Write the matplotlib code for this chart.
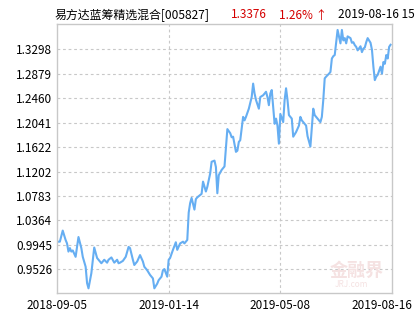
import matplotlib
matplotlib.use("Agg")
import matplotlib.pyplot as plt
import matplotlib.transforms as mtransforms

plt.rcParams['font.family'] = ['Noto Sans CJK SC', 'DejaVu Sans']

fund_name = "易方达蓝筹精选混合[005827]"
last_nav = "1.3376"
last_change = "1.26% ↑"
last_time = "2019-08-16 15"

x_labels = ["2018-09-05", "2019-01-14", "2019-05-08", "2019-08-16"]
x_label_pos = [0, 78, 156, 234]
y_ticks = [0.9526, 0.9945, 1.0364, 1.0783, 1.1202, 1.1622, 1.2041, 1.2460, 1.2879, 1.3298]

day_idx = [0, 2, 4, 6, 7, 8, 9, 10, 11, 13, 15, 17, 18, 20, 21, 22, 24, 26, 28, 29,
           31, 33, 35, 36, 38, 40, 42, 43, 44, 46, 48, 50, 51, 53, 54, 56, 58, 60, 61, 63,
           65, 67, 68, 70, 71, 73, 74, 75, 77, 78, 79, 81, 83, 84, 86, 88, 89, 91, 92, 93,
           94, 96, 97, 98, 100, 101, 102, 104, 105, 107, 108, 110, 111, 112, 113, 115, 116, 117, 119, 121,
           122, 123, 125, 126, 127, 128, 130, 131, 132, 134, 136, 137, 138, 139, 141, 142, 144, 146, 147, 148,
           149, 150, 152, 153, 154, 155, 156, 158, 159, 160, 161, 162, 164, 165, 167, 169, 170, 171, 173, 174,
           175, 177, 178, 179, 180, 182, 184, 185, 186, 187, 188, 190, 191, 192, 193, 194, 195, 196, 198, 199,
           200, 201, 202, 203, 205, 206, 207, 208, 209, 210, 212, 213, 214, 215, 216, 217, 219, 220, 221, 222,
           223, 224, 226, 227, 228, 229, 230, 231, 232, 233]
nav = [1.000, 1.000, 1.019, 1.003, 0.997, 0.983, 0.989, 0.983, 0.985, 0.974, 1.008, 0.989, 0.974, 0.957, 0.929, 0.920, 0.946, 0.990, 0.972, 0.969,
       0.963, 0.969, 0.964, 0.969, 0.973, 0.964, 0.969, 0.963, 0.964, 0.967, 0.974, 0.991, 0.989, 0.969, 0.960, 0.966, 0.977, 0.966, 0.957, 0.951,
       0.943, 0.937, 0.920, 0.928, 0.934, 0.940, 0.951, 0.953, 0.940, 0.969, 0.972, 0.986, 0.999, 0.986, 0.997, 1.000, 0.997, 1.003, 1.050, 1.066,
       1.075, 1.055, 1.073, 1.076, 1.080, 1.082, 1.103, 1.086, 1.094, 1.117, 1.137, 1.139, 1.128, 1.083, 1.114, 1.123, 1.126, 1.129, 1.193, 1.186,
       1.179, 1.180, 1.154, 1.156, 1.171, 1.174, 1.214, 1.208, 1.214, 1.228, 1.248, 1.271, 1.254, 1.243, 1.228, 1.248, 1.251, 1.257, 1.248, 1.234,
       1.254, 1.260, 1.202, 1.211, 1.199, 1.168, 1.219, 1.205, 1.243, 1.263, 1.243, 1.217, 1.211, 1.180, 1.188, 1.199, 1.214, 1.208, 1.202, 1.199,
       1.181, 1.163, 1.196, 1.228, 1.217, 1.211, 1.205, 1.214, 1.243, 1.280, 1.283, 1.288, 1.291, 1.314, 1.318, 1.320, 1.341, 1.363, 1.340, 1.363,
       1.345, 1.349, 1.340, 1.352, 1.349, 1.341, 1.342, 1.337, 1.334, 1.328, 1.335, 1.325, 1.331, 1.333, 1.342, 1.349, 1.341, 1.329, 1.300, 1.277,
       1.283, 1.286, 1.300, 1.288, 1.308, 1.305, 1.320, 1.314, 1.334, 1.3376]

W, H = 415, 330
fig = plt.figure(figsize=(W / 100, H / 100), dpi=100)
fig.patch.set_facecolor("white")
ax = fig.add_axes([57 / W, 1 - 293 / H, 335 / W, 269 / H])

ax.plot(day_idx, nav, color="#66aef2", linewidth=1.5, solid_joinstyle="round")
ax.set_xlim(0, 234)
ax.set_ylim(0.9120, 1.3732)

ax.set_yticks(y_ticks)
ax.set_yticklabels([f"{v:.4f}" for v in y_ticks])
ax.set_xticks(x_label_pos)
ax.set_xticklabels(x_labels)

grid_kw = dict(color="#c8c8c8", linewidth=0.8, linestyle=(0, (2.5, 2.5)))
for v in y_ticks:
    ax.axhline(v, **grid_kw, zorder=0)
for p in x_label_pos[1:-1]:
    ax.axvline(p, **grid_kw, zorder=0)

for s in ax.spines.values():
    s.set_color("#c8c8c8")
    s.set_linewidth(1.0)

ax.tick_params(axis="both", length=0, labelsize=8.5, colors="#000000")
ax.tick_params(axis="y", pad=3.5)
ax.tick_params(axis="x", pad=4)

labels = ax.get_xticklabels()
shift = mtransforms.ScaledTranslation(-10 / 100, 0, fig.dpi_scale_trans)
labels[-1].set_transform(labels[-1].get_transform() + shift)

# watermark
ax.text(0.975, 0.085, "金融界", transform=ax.transAxes, ha="right", va="center",
        fontsize=13, color="#f5e2e2", fontweight="bold", zorder=0)
ax.text(0.93, 0.03, "JRJ.com", transform=ax.transAxes, ha="right", va="center",
        fontsize=6, color="#f5e2e2", fontstyle="italic", zorder=0)

ty = 1 - 15 / H
fig.text(55 / W, ty, fund_name, ha="left", va="center", fontsize=8.6, color="#000000")
fig.text(231 / W, ty, last_nav, ha="left", va="center", fontsize=8.5, color="#d40000")
fig.text(279 / W, ty, last_change, ha="left", va="center", fontsize=8.5, color="#d40000")
fig.text(338 / W, ty, last_time, ha="left", va="center", fontsize=8.5, color="#000000")

fig.savefig("out.png", dpi=100, facecolor="white")
